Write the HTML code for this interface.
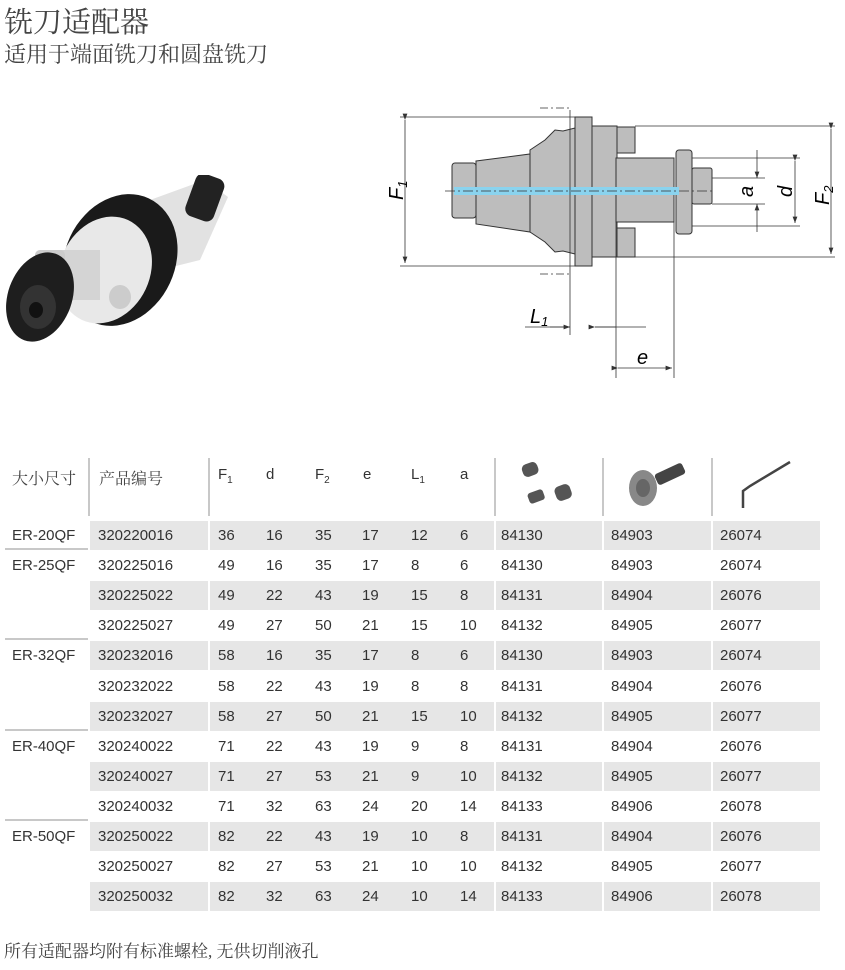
<!DOCTYPE html>
<html><head><meta charset="utf-8"><style>
body{margin:0;width:845px;height:970px;background:#fff;position:relative;overflow:hidden;font-family:"Liberation Sans","Noto Sans CJK SC",sans-serif;color:#333}
.a{position:absolute;white-space:nowrap}
.t1{left:4px;top:0px;font-size:29px;color:#444;font-family:"Liberation Serif","Noto Serif CJK SC",serif}
.t2{left:4px;top:38px;font-size:22px;color:#444;font-family:"Liberation Serif","Noto Serif CJK SC",serif}
.hd{font-size:16px;color:#444;font-family:"Liberation Serif","Noto Serif CJK SC",serif}
.row{position:absolute;left:0;width:845px;height:29px;font-size:15px;line-height:29px}
.g{position:absolute;top:0;height:29px;background:#e6e6e6}
.c{position:absolute;top:0}
.sep{position:absolute;width:2px;background:#c8c8c8;top:458px;height:58px}
.hl{position:absolute;left:5px;width:83px;height:2px;background:#c8c8c8}
</style></head><body>
<div class="a t1">铣刀适配器</div>
<div class="a t2">适用于端面铣刀和圆盘铣刀</div>

<!-- photo -->
<svg class="a" style="left:0;top:175px" width="240" height="175">
<polygon points="150,25 205,5 228,22 200,85 160,95" fill="#e2e2e2"/>
<rect x="190" y="0" width="30" height="45" rx="8" fill="#222" transform="rotate(20 205 22)"/>
<ellipse cx="120" cy="85" rx="55" ry="68" fill="#1a1a1a" transform="rotate(25 120 85)"/>
<ellipse cx="105" cy="95" rx="45" ry="55" fill="#e8e8e8" transform="rotate(25 105 95)"/>
<rect x="45" y="75" width="55" height="50" fill="#d4d4d4"/>
<rect x="35" y="75" width="30" height="22" rx="5" fill="#ccc"/>
<ellipse cx="120" cy="122" rx="11" ry="12" fill="#ccc"/>
<ellipse cx="40" cy="122" rx="32" ry="46" fill="#1e1e1e" transform="rotate(20 40 122)"/>
<ellipse cx="38" cy="132" rx="18" ry="22" fill="#333"/>
<ellipse cx="36" cy="135" rx="7" ry="8" fill="#111"/>
</svg>

<!-- drawing -->
<svg class="a" style="left:380px;top:0px" width="465" height="390" font-family="Liberation Sans,sans-serif" font-style="italic">
<defs><marker id="m" markerWidth="8" markerHeight="6" refX="8" refY="3" orient="auto"><path d="M0,0L8,3L0,6z" fill="#333"/></marker></defs>
<g stroke="#333" stroke-width="1" fill="#bdbdbd">
<rect x="72" y="163" width="24" height="55" rx="3"/>
<polygon points="96,161 150,154 150,232 96,224"/>
<polygon points="150,150 165,140 175,130 183,131 195,128 195,254 183,251 175,252 165,242 150,232"/>
<rect x="195" y="117" width="17" height="149"/>
<rect x="212" y="126" width="25" height="131"/>
<rect x="237" y="127" width="18" height="26"/>
<rect x="237" y="228" width="18" height="29"/>
<rect x="236" y="158" width="58" height="64"/>
<rect x="296" y="150" width="16" height="84" rx="3"/>
<rect x="312" y="168" width="20" height="36" rx="2"/>
</g>
<rect x="74" y="187" width="225" height="8" fill="#8ad3ee"/>
<g stroke="#333" fill="none" stroke-width="0.8">
<line x1="20" y1="117" x2="195" y2="117"/><line x1="20" y1="266" x2="195" y2="266"/>
<line x1="255" y1="126" x2="455" y2="126"/><line x1="255" y1="257" x2="455" y2="257"/>
<line x1="312" y1="158" x2="420" y2="158"/><line x1="312" y1="226" x2="420" y2="226"/>
<line x1="332" y1="178" x2="385" y2="178"/><line x1="332" y1="204" x2="385" y2="204"/>
<line x1="25" y1="120" x2="25" y2="263" marker-start="url(#m)" marker-end="url(#m)"/>
<line x1="451" y1="129" x2="451" y2="254" marker-start="url(#m)" marker-end="url(#m)"/>
<line x1="415" y1="161" x2="415" y2="223" marker-start="url(#m)" marker-end="url(#m)"/>
<line x1="377" y1="150" x2="377" y2="178" marker-end="url(#m)"/><line x1="377" y1="232" x2="377" y2="204" marker-end="url(#m)"/>
<line x1="190" y1="110" x2="190" y2="335"/>
<line x1="236" y1="222" x2="236" y2="378"/><line x1="294" y1="222" x2="294" y2="378"/>
<line x1="145" y1="327" x2="190" y2="327"/><line x1="170" y1="327" x2="190" y2="327" marker-end="url(#m)"/>
<line x1="215" y1="327" x2="266" y2="327"/><line x1="215" y1="327" x2="236" y2="327" marker-start="url(#m)"/>
<line x1="238" y1="368" x2="292" y2="368" marker-start="url(#m)" marker-end="url(#m)"/>
<line x1="160" y1="108" x2="190" y2="108" stroke-dasharray="8,3,2,3"/><line x1="160" y1="274" x2="190" y2="274" stroke-dasharray="8,3,2,3"/>
<line x1="65" y1="191" x2="335" y2="191" stroke-dasharray="10,3,2,3"/>
</g>
<text font-size="20" transform="translate(23,200) rotate(-90)">F<tspan font-size="13" dy="4">1</tspan></text>
<text font-size="20" transform="translate(449,205) rotate(-90)">F<tspan font-size="13" dy="4">2</tspan></text>
<text font-size="20" transform="translate(412,197) rotate(-90)">d</text>
<text font-size="20" transform="translate(373,197) rotate(-90)">a</text>
<text x="150" y="323" font-size="20">L<tspan font-size="13" dy="3">1</tspan></text>
<text x="257" y="364" font-size="20">e</text>
</svg>

<!-- header -->
<div class="sep" style="left:88px"></div><div class="sep" style="left:208px"></div>
<div class="sep" style="left:494px"></div><div class="sep" style="left:602px"></div><div class="sep" style="left:711px"></div>
<div class="a hd" style="left:12px;top:466px">大小尺寸</div>
<div class="a hd" style="left:99px;top:466px">产品编号</div>
<div class="a" style="left:218px;top:466px;font-size:15px">F<sub style="font-size:10px">1</sub></div>
<div class="a" style="left:266px;top:466px;font-size:15px">d</div>
<div class="a" style="left:315px;top:466px;font-size:15px">F<sub style="font-size:10px">2</sub></div>
<div class="a" style="left:363px;top:466px;font-size:15px">e</div>
<div class="a" style="left:411px;top:466px;font-size:15px">L<sub style="font-size:10px">1</sub></div>
<div class="a" style="left:460px;top:466px;font-size:15px">a</div>
<svg class="a" style="left:500px;top:458px" width="330" height="60">
<g fill="#555"><rect x="22" y="5" width="16" height="13" rx="5" transform="rotate(-20 30 11)"/>
<rect x="28" y="33" width="16" height="11" rx="3" transform="rotate(-20 36 38)"/>
<rect x="55" y="27" width="16" height="15" rx="5" transform="rotate(-20 63 34)"/>
<rect x="155" y="10" width="30" height="12" rx="3" fill="#444" transform="rotate(-25 170 16)"/>
<ellipse cx="143" cy="30" rx="14" ry="18" fill="#888"/><ellipse cx="143" cy="30" rx="7" ry="9" fill="#666"/></g>
<path d="M243,50 L243,33 L250,28 L290,4" stroke="#444" stroke-width="2.5" fill="none"/>
</svg>

<div class="hl" style="top:548px"></div><div class="hl" style="top:638px"></div>
<div class="hl" style="top:729px"></div><div class="hl" style="top:819px"></div>

<div id="rows"></div>
<div class="a hd" style="left:4px;top:937px;font-size:17px">所有适配器均附有标准螺栓, 无供切削液孔</div>

<script>
var d=[["ER-20QF","320220016",36,16,35,17,12,6,84130,84903,26074],
["ER-25QF","320225016",49,16,35,17,8,6,84130,84903,26074],
["","320225022",49,22,43,19,15,8,84131,84904,26076],
["","320225027",49,27,50,21,15,10,84132,84905,26077],
["ER-32QF","320232016",58,16,35,17,8,6,84130,84903,26074],
["","320232022",58,22,43,19,8,8,84131,84904,26076],
["","320232027",58,27,50,21,15,10,84132,84905,26077],
["ER-40QF","320240022",71,22,43,19,9,8,84131,84904,26076],
["","320240027",71,27,53,21,9,10,84132,84905,26077],
["","320240032",71,32,63,24,20,14,84133,84906,26078],
["ER-50QF","320250022",82,22,43,19,10,8,84131,84904,26076],
["","320250027",82,27,53,21,10,10,84132,84905,26077],
["","320250032",82,32,63,24,10,14,84133,84906,26078]];
var xs=[12,98,218,266,315,362,411,460,501,611,720],h="";
var segs=[[90,208],[210,494],[496,602],[604,711],[713,820]];
d.forEach(function(r,i){var top=521+i*30.1;h+='<div class="row" style="top:'+top+'px">';
if(i%2==0)segs.forEach(function(s){h+='<div class="g" style="left:'+s[0]+'px;width:'+(s[1]-s[0])+'px"></div>'});
r.forEach(function(v,j){h+='<div class="c" style="left:'+xs[j]+'px">'+v+'</div>'});h+='</div>'});
document.getElementById('rows').innerHTML=h;
</script>
</body></html>
